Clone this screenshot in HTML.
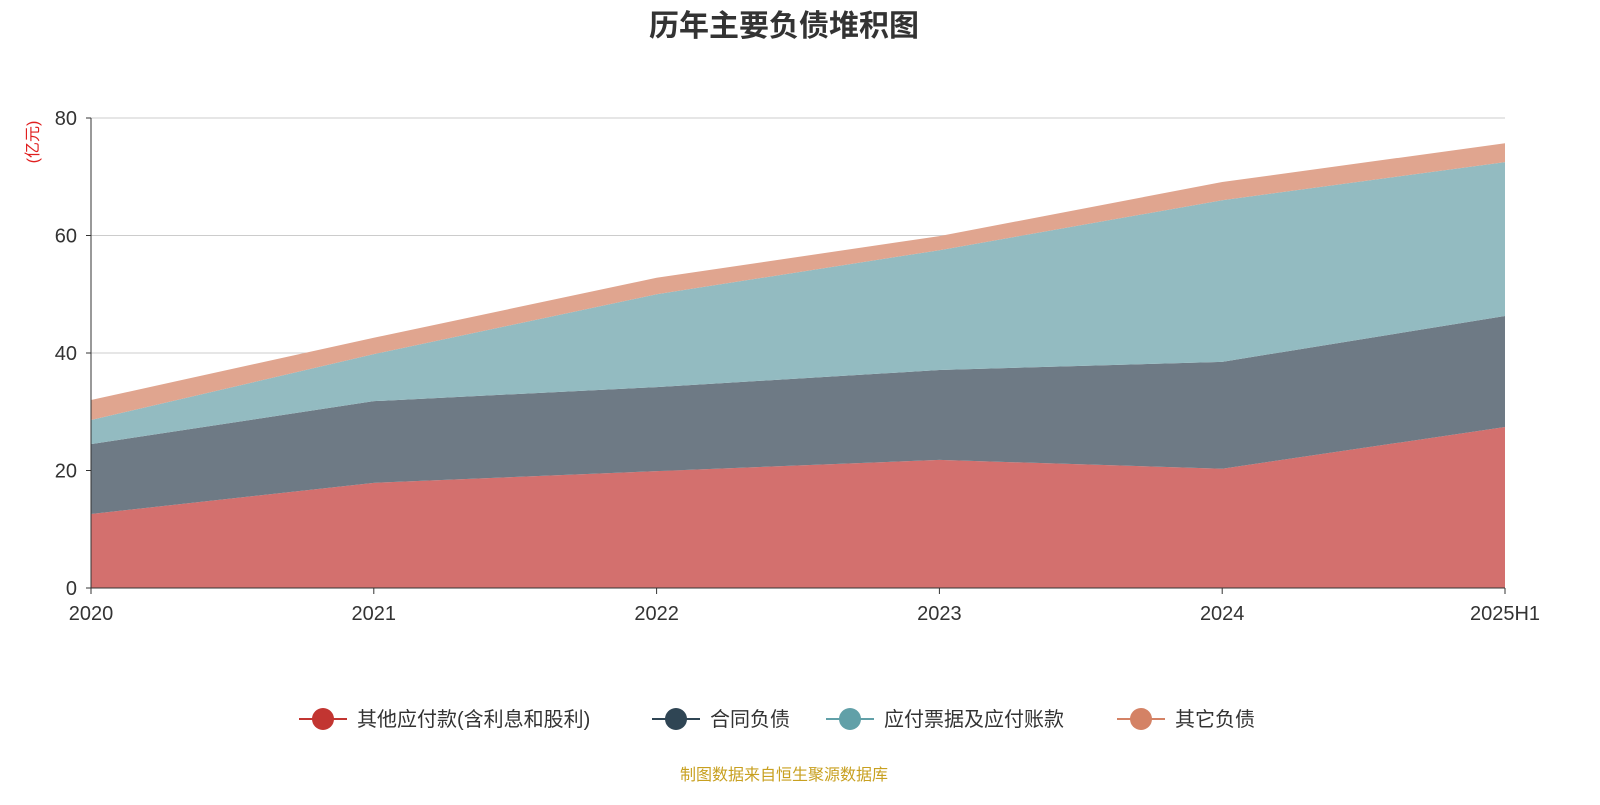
<!DOCTYPE html>
<html><head><meta charset="utf-8"><style>
body{margin:0;background:#fff;font-family:"Liberation Sans","Noto Sans CJK SC",sans-serif}
</style></head><body>
<svg id="chart" width="1600" height="800" xmlns="http://www.w3.org/2000/svg" font-family="Liberation Sans, Noto Sans CJK SC, sans-serif">
<text x="784" y="36" text-anchor="middle" font-size="30" font-weight="bold" fill="#333">历年主要负债堆积图</text>
<text transform="translate(38,142) rotate(-90)" text-anchor="middle" font-size="16" fill="#e02020">(亿元)</text>
<g id="grid"></g><g id="areas"></g><g id="axes"></g>
<g id="legend"></g>
<text x="784" y="780" text-anchor="middle" font-size="16" fill="#c8a020">制图数据来自恒生聚源数据库</text>
</svg>
<script>
const categories=["2020","2021","2022","2023","2024","2025H1"];
const seriesNames=["其他应付款(含利息和股利)","合同负债","应付票据及应付账款","其它负债"];
const otherPayables=[12.6,17.9,19.9,21.8,20.3,27.4];
const contractLiab=[11.9,13.9,14.3,15.3,18.2,18.9];
const notesPayable=[4.1,8.0,15.8,20.4,27.5,26.2];
const otherLiab=[3.4,2.8,2.8,2.4,3.1,3.2];
const yTicks=[0,20,40,60,80];
const fills=["#d3706e","#6e7a85","#93bbc1","#e0a58f"];
const icons=["#c23531","#2f4554","#61a0a8","#d48265"];
const NS="http://www.w3.org/2000/svg";
const x0=91,x1=1505,y0=588,y1=118;
const xs=i=>x0+(x1-x0)*i/(categories.length-1);
const ys=v=>y0-(y0-y1)*v/80;
function mk(t,a,p){const e=document.createElementNS(NS,t);for(const k in a)e.setAttribute(k,a[k]);p.appendChild(e);return e;}
const grid=document.getElementById('grid'),axes=document.getElementById('axes'),areas=document.getElementById('areas');
yTicks.forEach(v=>{
 if(v>0){const l=mk('line',{x1:x0,x2:x1,y1:ys(v),y2:ys(v),stroke:'#ccc'},grid);
 
 }
 const t=mk('text',{x:x0-14,y:ys(v)+7,'text-anchor':'end','font-size':20,fill:'#333'},axes);t.textContent=v;
 
 
 mk('line',{x1:x0-5,x2:x0,y1:ys(v),y2:ys(v),stroke:'#333'},axes);
});
const data=[otherPayables,contractLiab,notesPayable,otherLiab];
let base=categories.map(()=>0);
data.forEach((s,k)=>{
 const top=base.map((b,i)=>b+s[i]);
 let d='M'+top.map((v,i)=>xs(i)+','+ys(v)).join('L');
 for(let i=categories.length-1;i>=0;i--)d+='L'+xs(i)+','+ys(base[i]);
 const p=mk('path',{d:d+'Z',fill:fills[k]},areas);
 
 
 base=top;
});
mk('line',{x1:x0,x2:x0,y1:y1,y2:y0,stroke:'#333'},axes);
mk('line',{x1:x0,x2:x1,y1:y0,y2:y0,stroke:'#333'},axes);
categories.forEach((c,i)=>{
 mk('line',{x1:xs(i),x2:xs(i),y1:y0,y2:y0+6,stroke:'#333'},axes);
 const t=mk('text',{x:xs(i),y:620,'text-anchor':'middle','font-size':20,fill:'#333'},axes);t.textContent=c;
 
 
});
const lg=document.getElementById('legend');
const lx=[299,652,826,1117];
seriesNames.forEach((n,k)=>{
 const g=mk('g',{},lg);
 
 
 mk('line',{x1:lx[k],x2:lx[k]+48,y1:719,y2:719,stroke:icons[k],'stroke-width':2},g);
 mk('circle',{cx:lx[k]+24,cy:719,r:11,fill:icons[k]},g);
 const t=mk('text',{x:lx[k]+58,y:726,'font-size':20,fill:'#333'},g);t.textContent=n;
});
</script>
</body></html>
